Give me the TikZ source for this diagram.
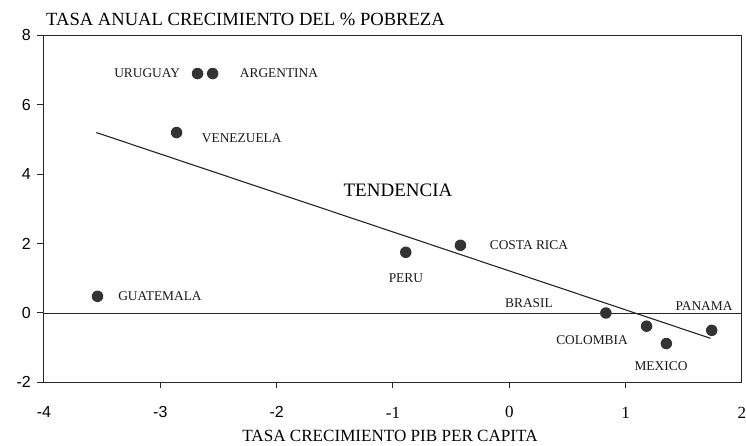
\documentclass[tikz,border=0pt]{standalone}
\usepackage{fontspec}
\setmainfont{Liberation Serif}
\newfontfamily\numsans{Liberation Sans}
\begin{document}
\begin{tikzpicture}[x=1pt,y=1pt,
  frame/.style={line width=1pt,draw=black!85},
  dot/.style={circle,fill=black!80,inner sep=0pt,minimum size=11.5pt},
  lbl/.style={font=\fontsize{13.4}{15}\selectfont,text=black!90,inner sep=0pt},
  ytl/.style={font=\numsans\fontsize{16}{18}\selectfont,anchor=east,inner sep=0pt},
  xtls/.style={font=\numsans\fontsize{16}{18}\selectfont,inner sep=0pt},
  xtlr/.style={font=\fontsize{17}{19}\selectfont,inner sep=0pt}]
\useasboundingbox (0,0) rectangle (746,446);
\fill[white] (0,0) rectangle (746,446);
\node[font=\fontsize{18.6}{21}\selectfont,inner sep=0pt,anchor=west] (ytitle) at (46,427) {TASA ANUAL CRECIMIENTO DEL \% POBREZA};
\node[font=\fontsize{17.1}{20}\selectfont,inner sep=0pt] (xtitle) at (390,10) {TASA CRECIMIENTO PIB PER CAPITA};
\begin{scope}[shift={(509.3,133)},x=116.33pt,y=34.7pt]
  % frame
  \draw[frame] (-4,-2) rectangle (2,8);
  \draw[line width=0.9pt,black!85] (-4,0) -- (2,0);
  % y ticks
  \foreach \v in {-2,0,2,4,6,8}{
    \draw[frame] (-4,\v) -- ([xshift=-7pt]-4,\v);
    \node[ytl] at ([xshift=-13pt]-4,\v) {\v};
  }
  % x ticks
  \foreach \v in {-3,-2,-1,0,1}{
    \draw[frame] (\v,-2) -- ([yshift=-6pt]\v,-2);
  }
  \foreach \v in {-4,-3,-2}{
    \node[xtls] at ([yshift=-30pt]\v,-2) {\v};
  }
  \foreach \v in {-1,0,1,2}{
    \node[xtlr] at ([yshift=-30pt]\v,-2) {\v};
  }
  % trend
  \coordinate (t1) at (-3.55,5.2);
  \coordinate (t2) at (1.73,-0.73);
  \draw[line width=1.1pt,black!85] (t1) -- (t2);
  \node[font=\fontsize{19}{22}\selectfont,inner sep=0pt] (tend) at (-0.957,3.54) {TENDENCIA};
  % points
  \node[dot] (uru) at (-2.68,6.9) {};
  \node[dot] (arg) at (-2.55,6.9) {};
  \node[dot] (ven) at (-2.86,5.2) {};
  \node[dot] (gua) at (-3.54,0.48) {};
  \node[dot] (per) at (-0.89,1.75) {};
  \node[dot] (cri) at (-0.42,1.95) {};
  \node[dot] (bra) at (0.83,0.0) {};
  \node[dot] (col) at (1.18,-0.38) {};
  \node[dot] (mex) at (1.35,-0.88) {};
  \node[dot] (pan) at (1.74,-0.5) {};
  % labels
  \node[lbl] (luru) at (-3.113,6.92) {URUGUAY};
  \node[lbl] (larg) at (-1.98,6.92) {ARGENTINA};
  \node[lbl] (lven) at (-2.30,5.04) {VENEZUELA};
  \node[lbl] (lgua) at (-3.003,0.49) {GUATEMALA};
  \node[lbl] (lper) at (-0.889,1.01) {PERU};
  \node[lbl] (lcri) at (0.169,1.96) {COSTA RICA};
  \node[lbl] (lbra) at (0.169,0.29) {BRASIL};
  \node[lbl] (lcol) at (0.711,-0.78) {COLOMBIA};
  \node[lbl] (lpan) at (1.674,0.20) {PANAMA};
  \node[lbl] (lmex) at (1.304,-1.53) {MEXICO};
\end{scope}
\end{tikzpicture}
\end{document}
